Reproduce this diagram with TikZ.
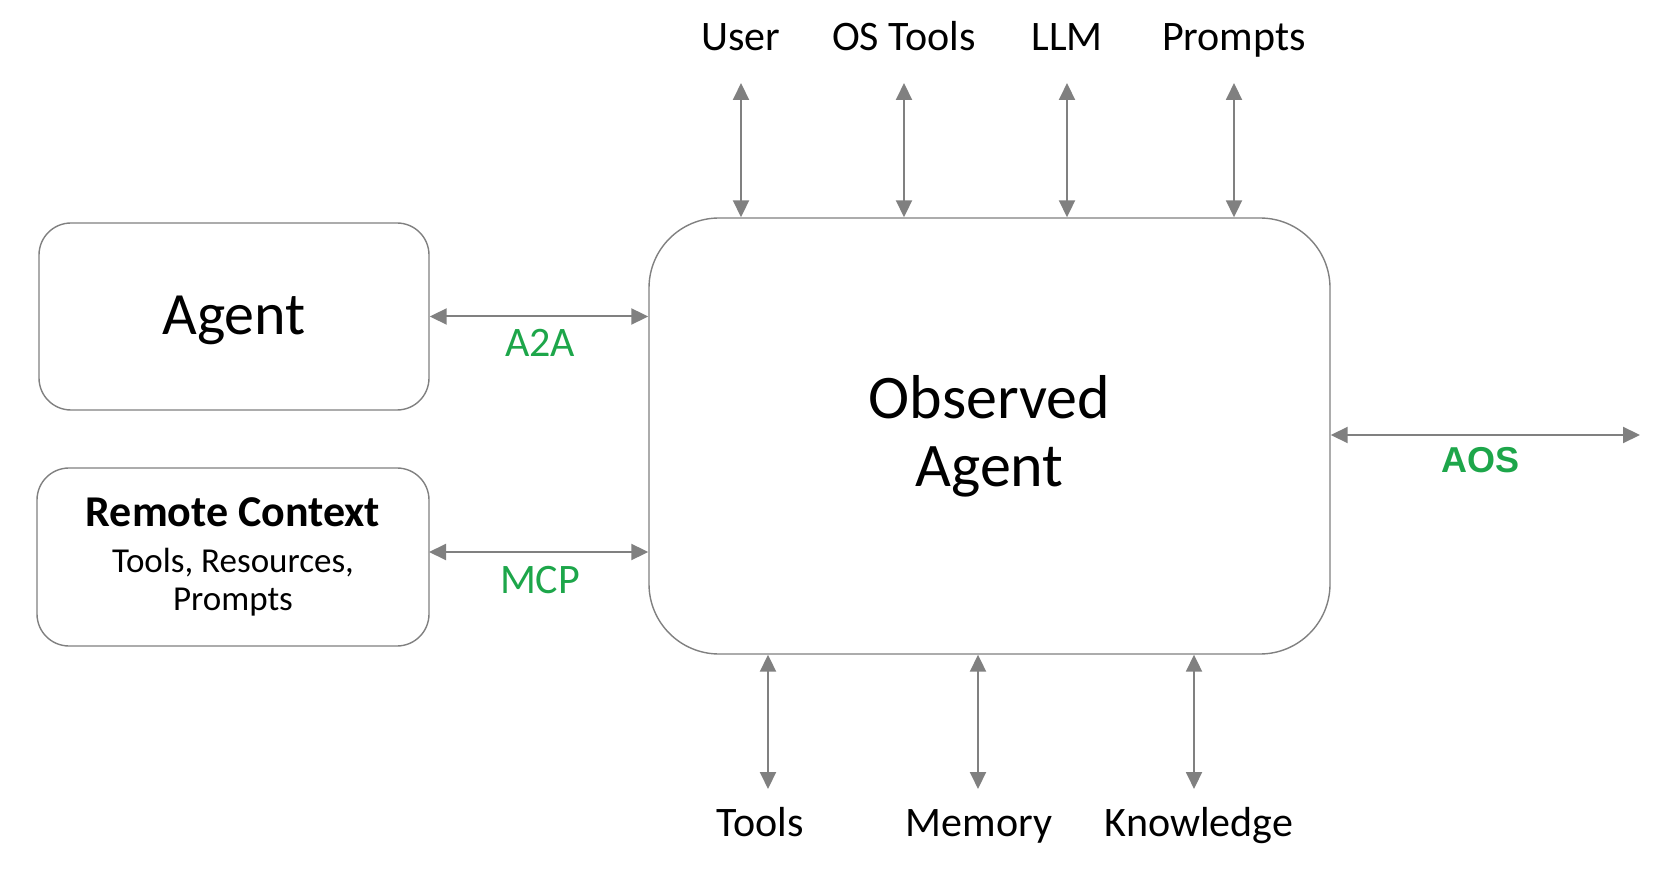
\documentclass[tikz,border=0pt]{standalone}
\usepackage{fontspec}
\setmainfont{Carlito}
\newfontfamily\arialfont{Liberation Sans}
\usetikzlibrary{arrows.meta,shapes,positioning,calc}
\definecolor{linegray}{RGB}{128,128,128}
\definecolor{protogreen}{RGB}{29,166,74}

\begin{document}
\begin{tikzpicture}[x=0.5pt,y=-0.5pt,
	box/.style={draw=linegray,line width=0.7pt,rounded corners=16pt,align=center,inner sep=0pt},
	link/.style={draw=linegray,line width=1pt,{Triangle[length=8.5pt,width=8pt]}-{Triangle[length=8.5pt,width=8pt]}},
	lbl/.style={font=\fontsize{21}{25}\selectfont,inner sep=0pt,anchor=base},
	proto/.style={text=protogreen,font=\fontsize{21}{25}\selectfont,inner sep=0pt}]
	\useasboundingbox (0,0) rectangle (1668,870);

	% boxes
	\node[box,minimum width=195pt,minimum height=93.5pt,text height=21pt,text depth=2.5pt,
		font=\fontsize{30}{36}\selectfont] at (234,316.5) (agent) {Agent};
	\node[box,minimum width=196pt,minimum height=89pt,font=\fontsize{17.5}{19}\selectfont] at (233,557) (remote)
		{{\fontsize{22}{24}\selectfont\bfseries Remote Context}\\[4pt]
		 Tools, Resources,\\Prompts};
	\node[box,rounded corners=35pt,minimum width=340.5pt,minimum height=218pt,font=\fontsize{31}{34}\selectfont] at (989.5,436) (obs)
		{Observed\\Agent};

	% left links
	\draw[link] (agent.east) -- (agent.east -| obs.west);
	\node[proto] at (540,343) (a2a) {A2A};
	\coordinate (m) at (429,552);
	\draw[link] (m) -- (m -| obs.west);
	\node[proto] at (540,580) (mcp) {MCP};

	% right link
	\coordinate (aosend) at (1640,435);
	\draw[link] (aosend -| obs.east) -- (aosend);
	\node[text=protogreen,inner sep=0pt,font=\arialfont\bfseries\fontsize{18}{22}\selectfont] at (1480,460) (aos) {AOS};

	% top
	\node[lbl] at (741,51) (user) {User};
	\node[lbl] at (904,51) (ostools) {OS Tools};
	\node[lbl] at (1067,51) (llm) {LLM};
	\node[lbl] at (1234,51) (prompts) {Prompts};
	\coordinate (t1) at (741,83);
	\coordinate (t2) at (904,83);
	\coordinate (t3) at (1067,83);
	\coordinate (t4) at (1234,83);
	\draw[link] (t1) -- (t1 |- obs.north);
	\draw[link] (t2) -- (t2 |- obs.north);
	\draw[link] (t3) -- (t3 |- obs.north);
	\draw[link] (t4) -- (t4 |- obs.north);

	% bottom
	\node[lbl] at (760,836) (tools) {Tools};
	\node[lbl] at (979,836) (memory) {Memory};
	\node[lbl] at (1199,836) (knowledge) {Knowledge};
	\coordinate (b1) at (768,789);
	\coordinate (b2) at (978,789);
	\coordinate (b3) at (1194,789);
	\draw[link] (b1 |- obs.south) -- (b1);
	\draw[link] (b2 |- obs.south) -- (b2);
	\draw[link] (b3 |- obs.south) -- (b3);
\end{tikzpicture}
\end{document}
